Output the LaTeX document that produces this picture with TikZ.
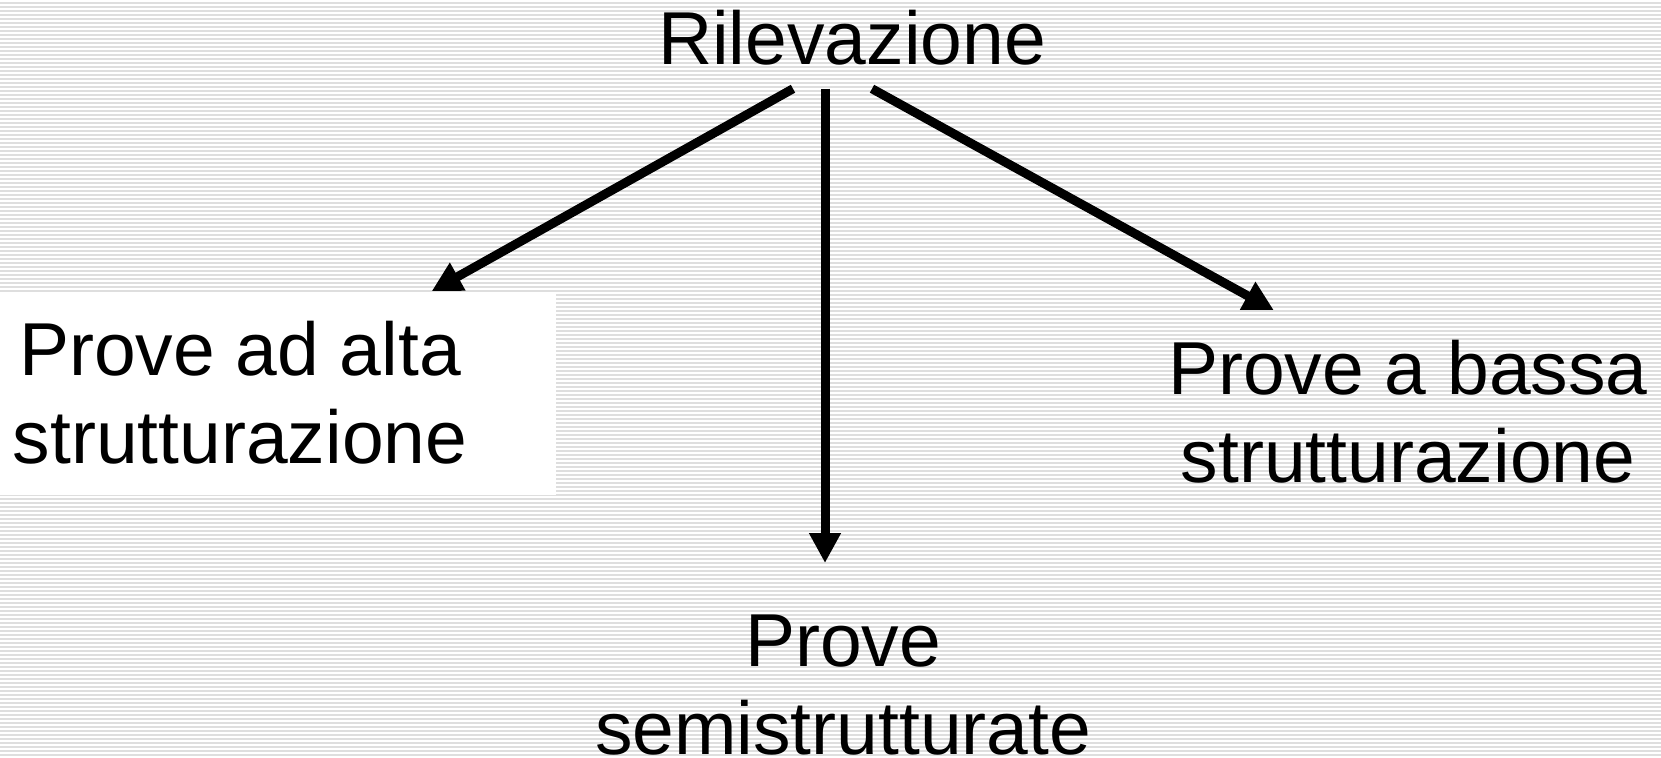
\documentclass[tikz,border=0pt]{standalone}
\usepackage{fontspec}
\setmainfont{Liberation Sans}
\usetikzlibrary{arrows.meta}

\begin{document}
\begin{tikzpicture}[x=0.5pt, y=-0.5pt]
\tikzstyle{lbl} = [inner sep=0pt, align=center, font=\fontsize{37.5pt}{44pt}\selectfont]
\tikzstyle{arr} = [line width=4.5pt, -{Triangle[length=15pt,width=15pt]}]
\tikzstyle{bgline} = [black!13, line width=0.6pt]

\useasboundingbox (0,0) rectangle (1661,757);
\fill[white] (0,0) rectangle (1661,757);
\foreach \y in {3,7,...,755} {
\draw[bgline] (0,\y) -- (1661,\y);
}
\fill[white] (0,294) rectangle (556,495);

% base sits on the last line
\node[lbl, anchor=base, outer ysep=12pt] (ril) at (852,64) {Rilevazione};
\node[lbl, anchor=base] (alta) at (240,463) {Prove ad alta\\strutturazione};
\node[lbl, anchor=base] (semi) at (843,754) {Prove\\semistrutturate};
\node[lbl, anchor=base] (bassa) at (1408,482) {Prove a bassa\\strutturazione};

\draw[arr] ([shift={(-59,0)}]ril.south) -- ([shift={(-36,-29)}]alta.north east);
\draw[arr] ([shift={(-27,0)}]ril.south) -- ([shift={(-18,-51)}]semi.north);
\draw[arr] ([shift={(20,0)}]ril.south) -- ([shift={(106,-29)}]bassa.north west);

\end{tikzpicture}
\end{document}
